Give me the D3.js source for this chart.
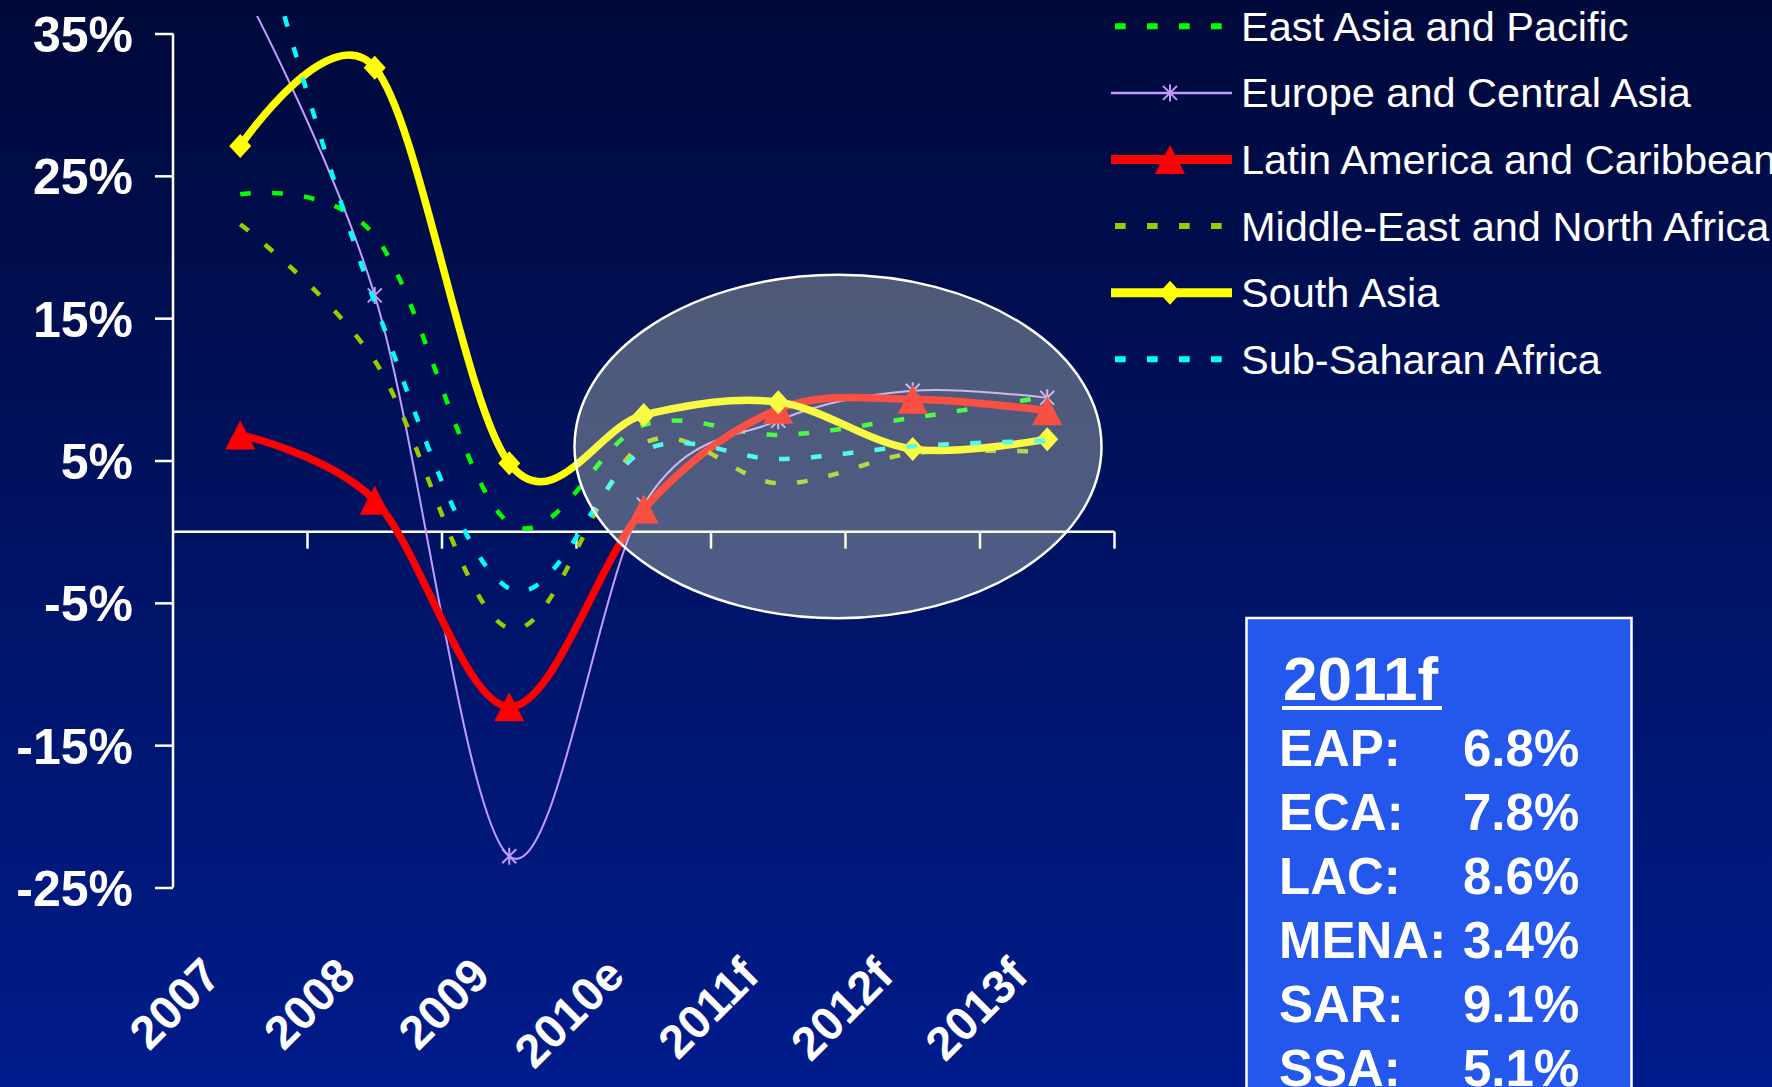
<!DOCTYPE html>
<html>
<head>
<meta charset="utf-8">
<script src="https://cdn.jsdelivr.net/npm/d3@7"></script>
<style>
  html, body { margin: 0; padding: 0; overflow: hidden; background: #000f55; }
  svg { display: block; }
</style>
</head>
<body>
<svg id="chart" width="1772" height="1087"></svg>
<script>
// Regional growth, percent per year (2010 estimate, 2011-2013 forecasts)
const categories = ["2007", "2008", "2009", "2010e", "2011f", "2012f", "2013f"];
const eapGrowth  = [23.7, 20.8, 0.6, 7.5, 6.8, 8.0, 9.5];
const ecaGrowth  = [38.5, 16.6, -22.8, 1.9, 7.8, 9.9, 9.4];
const lacGrowth  = [6.8, 2.2, -12.3, 1.6, 8.6, 9.3, 8.5];
const menaGrowth = [21.6, 12.0, -6.8, 6.2, 3.4, 5.5, 5.6];
const sarGrowth  = [27.1, 32.6, 4.8, 8.2, 9.1, 5.8, 6.5];
const ssaGrowth  = [47.0, 16.1, -4.0, 5.7, 5.1, 6.0, 6.4];

const seriesNames = [
  "East Asia and Pacific",
  "Europe and Central Asia",
  "Latin America and Caribbean",
  "Middle-East and North Africa",
  "South Asia",
  "Sub-Saharan Africa"
];
const seriesCodes = ["EAP:", "ECA:", "LAC:", "MENA:", "SAR:", "SSA:"];
const yTickValues = [-25, -15, -5, 5, 15, 25, 35];
const highlightYear = "2011f";

// Drawing styles per series
const styles = [
  { color: "#00ff00", width: 4.5, dash: "10.7 21.3", marker: null },
  { color: "#c09cff", width: 2,   dash: null,        marker: "asterisk" },
  { color: "#ff0000", width: 7.5, dash: null,        marker: "triangle" },
  { color: "#99cc00", width: 4.5, dash: "10.7 21.3", marker: null },
  { color: "#ffff00", width: 7.5, dash: null,        marker: "diamond" },
  { color: "#00ffff", width: 4.5, dash: "10.7 21.3", marker: null }
];
const seriesValues = [eapGrowth, ecaGrowth, lacGrowth, menaGrowth, sarGrowth, ssaGrowth];
const series = seriesNames.map((name, i) => ({ name, code: seriesCodes[i], values: seriesValues[i], style: styles[i] }));

const W = 1772, H = 1087;
const svg = d3.select("#chart");
const defs = svg.append("defs");

// Background gradient
const bg = defs.append("linearGradient").attr("id", "bgGrad")
  .attr("x1", 0).attr("y1", 0).attr("x2", 0).attr("y2", 1);
bg.append("stop").attr("offset", "0%").attr("stop-color", "#00093a");
bg.append("stop").attr("offset", "100%").attr("stop-color", "#001c8c");
svg.append("rect").attr("width", W).attr("height", H).attr("fill", "url(#bgGrad)");

// Scales
const x = d3.scalePoint().domain(categories).range([173, 1114.5]).padding(0.5);
const y = d3.scaleLinear().domain([-25, 35]).range([887.5, 33.5]);
const step = x.step();

defs.append("clipPath").attr("id", "plotClip")
  .append("rect").attr("x", 0).attr("y", 16).attr("width", W).attr("height", H - 16);

const FONT = "'Liberation Sans', Arial, Helvetica, sans-serif";

// Y axis
const yAxis = d3.axisLeft(y).tickValues(yTickValues).tickSize(18).tickPadding(22)
  .tickFormat(d => d + "%");
const gy = svg.append("g").attr("transform", "translate(173,0)").call(yAxis);
gy.select(".domain").attr("d", `M0,${y(35)}V${y(-25)}`)
  .attr("stroke", "#ffffff").attr("stroke-width", 2.5).attr("fill", "none");
gy.selectAll(".tick line").attr("stroke", "#ffffff").attr("stroke-width", 2.5);
gy.selectAll(".tick text")
  .attr("fill", "#ffffff").attr("font-family", FONT).attr("font-weight", "bold")
  .attr("font-size", 50).attr("dy", "0.36em");

// X axis along the zero line, ticks between categories
const zeroY = y(0);
const boundaries = d3.range(categories.length + 1).map(k => 173 + k * step);
const gx = svg.append("g");
gx.append("line").attr("x1", 173).attr("x2", boundaries[boundaries.length - 1])
  .attr("y1", zeroY).attr("y2", zeroY).attr("stroke", "#ffffff").attr("stroke-width", 2.5);
gx.selectAll("line.tick").data(boundaries.slice(1)).join("line").attr("class", "tick")
  .attr("x1", d => d).attr("x2", d => d).attr("y1", zeroY).attr("y2", zeroY + 17)
  .attr("stroke", "#ffffff").attr("stroke-width", 2.5);

// Category labels, rotated, below the plot
svg.append("g").selectAll("text").data(categories).join("text")
  .attr("transform", d => `translate(${x(d) - 17},978) rotate(-45)`)
  .attr("text-anchor", "end")
  .attr("fill", "#ffffff").attr("font-family", FONT).attr("font-weight", "bold")
  .attr("font-size", 47).text(d => d);

// Marker shapes
function markerPath(type) {
  if (type === "triangle") return "M0,-14.5L15,14.5L-15,14.5Z";
  if (type === "diamond") return "M0,-12L11,0L0,12L-11,0Z";
  if (type === "asterisk") return "M0,-8.5V8.5M-7,-7L7,7M-7,7L7,-7";
  return "";
}
function drawMarker(g, type, color, cx, cy) {
  const p = g.append("path").attr("d", markerPath(type)).attr("transform", `translate(${cx},${cy})`);
  if (type === "asterisk") p.attr("fill", "none").attr("stroke", color).attr("stroke-width", 2);
  else p.attr("fill", color).attr("stroke", "none");
}

// Series lines (smoothed) and markers
const line = d3.line()
  .x((d, i) => x(categories[i]))
  .y(d => y(d))
  .curve(d3.curveCardinal.tension(0));

const plot = svg.append("g").attr("clip-path", "url(#plotClip)");
series.forEach(s => {
  const g = plot.append("g");
  g.append("path").datum(s.values).attr("d", line)
    .attr("fill", "none").attr("stroke", s.style.color).attr("stroke-width", s.style.width)
    .attr("stroke-dasharray", s.style.dash)
    .attr("stroke-linejoin", "round")
    .attr("stroke-linecap", s.style.dash ? "butt" : "round");
  if (s.style.marker) {
    s.values.forEach((v, i) => drawMarker(g, s.style.marker, s.style.color, x(categories[i]), y(v)));
  }
});

// Forecast highlight ellipse
svg.append("ellipse")
  .attr("cx", 838).attr("cy", 446.5).attr("rx", 263.5).attr("ry", 171.7)
  .attr("fill", "rgb(238,243,200)").attr("fill-opacity", 0.33)
  .attr("stroke", "#ffffff").attr("stroke-width", 2.5);

// Legend
const legend = svg.append("g");
series.forEach((s, i) => {
  const cy = 26.3 + i * 66.6;
  const g = legend.append("g");
  if (s.style.dash) {
    g.append("line").attr("x1", 1115).attr("x2", 1222).attr("y1", cy).attr("y2", cy)
      .attr("stroke", s.style.color).attr("stroke-width", 6).attr("stroke-dasharray", s.style.dash);
  } else {
    g.append("line").attr("x1", 1111).attr("x2", 1232).attr("y1", cy).attr("y2", cy)
      .attr("stroke", s.style.color).attr("stroke-width", s.style.width === 2 ? 2.5 : 9);
    drawMarker(g, s.style.marker, s.style.color, 1170, cy);
  }
  g.append("text").attr("x", 1241).attr("y", cy + 14.5)
    .attr("fill", "#ffffff").attr("font-family", FONT).attr("font-size", 41.5)
    .text(s.name);
});

// 2011 forecast summary box
const idx = categories.indexOf(highlightYear);
const box = svg.append("g");
box.append("rect").attr("x", 1246.5).attr("y", 618).attr("width", 385).attr("height", 520)
  .attr("fill", "#2457ec").attr("stroke", "#ffffff").attr("stroke-width", 2.5);
box.append("text").attr("x", 1283).attr("y", 700)
  .attr("fill", "#ffffff").attr("font-family", FONT).attr("font-weight", "bold")
  .attr("font-size", 62).text(highlightYear);
box.append("rect").attr("x", 1282).attr("y", 706).attr("width", 160).attr("height", 4)
  .attr("fill", "#ffffff");
series.forEach((s, i) => {
  const by = 766 + i * 63.9;
  box.append("text").attr("x", 1279).attr("y", by)
    .attr("fill", "#ffffff").attr("font-family", FONT).attr("font-weight", "bold")
    .attr("font-size", 51).text(s.code);
  box.append("text").attr("x", 1463).attr("y", by)
    .attr("fill", "#ffffff").attr("font-family", FONT).attr("font-weight", "bold")
    .attr("font-size", 51).text(d3.format(".1f")(s.values[idx]) + "%");
});
</script>
</body>
</html>
